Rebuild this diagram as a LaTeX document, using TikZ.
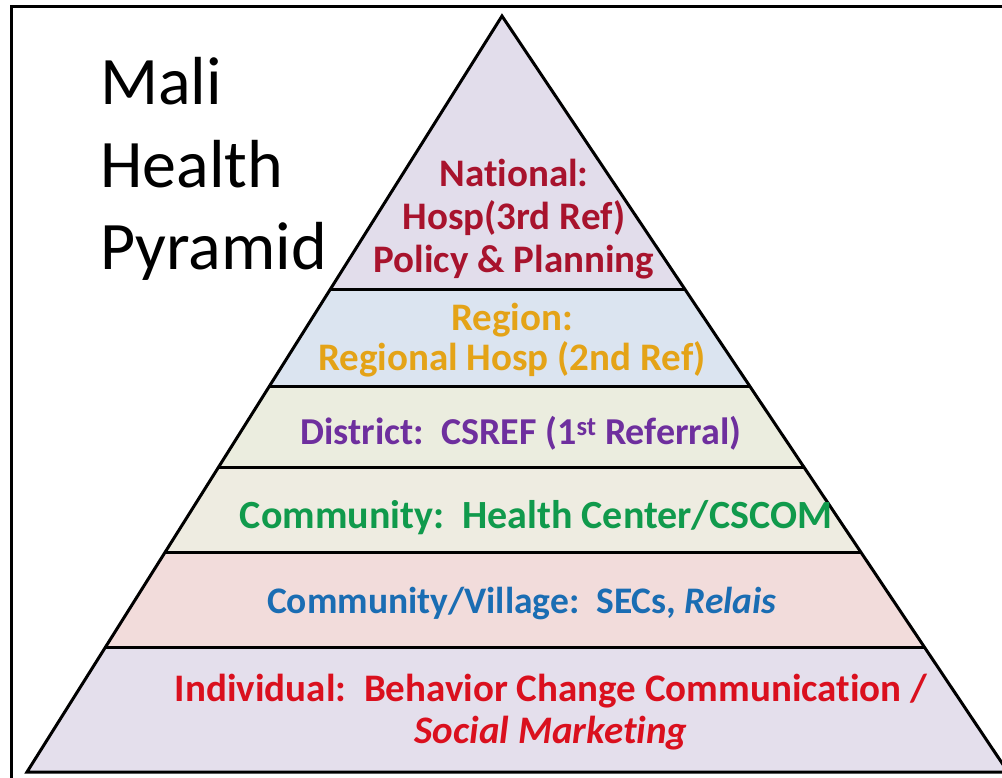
\documentclass[tikz,border=0pt]{standalone}
\usepackage{fontspec}
\setmainfont{Carlito}[Ligatures=CommonOff]
\usetikzlibrary{calc}
\definecolor{natfill}{HTML}{E2DDEB}
\definecolor{regfill}{HTML}{DBE4F0}
\definecolor{disfill}{HTML}{EBEDDF}
\definecolor{comfill}{HTML}{EEECE1}
\definecolor{vilfill}{HTML}{F2DCDB}
\definecolor{indfill}{HTML}{E4DFEC}
\definecolor{natcol}{HTML}{A8132D}
\definecolor{regcol}{HTML}{E4A317}
\definecolor{discol}{HTML}{6E2F9E}
\definecolor{comcol}{HTML}{109A4C}
\definecolor{vilcol}{HTML}{1A6DB3}
\definecolor{indcol}{HTML}{DA101E}
\begin{document}
\begin{tikzpicture}[x=1pt,y=-1pt,
  edge/.style={line width=3pt, line join=miter},
  sep/.style={line width=3pt},
  framebox/.style={line width=3.5pt},
  lbl/.style={font=\bfseries\fontsize{39}{43}\selectfont, align=center, inner sep=0pt},
  ttl/.style={font=\fontsize{68}{80}\selectfont, anchor=base west, inner sep=0pt}]
\useasboundingbox (0,0) rectangle (1002,778);
\fill[white] (0,0) rectangle (1002,778);
\begin{scope}
\clip (0,0) rectangle (1002,778);
\coordinate (A) at (502,16);
\coordinate (BL) at (27,772);
\coordinate (BR) at (1008,772);
\coordinate (L1) at ($(A)!{274/756}!(BL)$);
\coordinate (R1) at ($(A)!{274/756}!(BR)$);
\coordinate (L2) at ($(A)!{371/756}!(BL)$);
\coordinate (R2) at ($(A)!{371/756}!(BR)$);
\coordinate (L3) at ($(A)!{452/756}!(BL)$);
\coordinate (R3) at ($(A)!{452/756}!(BR)$);
\coordinate (L4) at ($(A)!{537/756}!(BL)$);
\coordinate (R4) at ($(A)!{537/756}!(BR)$);
\coordinate (L5) at ($(A)!{632/756}!(BL)$);
\coordinate (R5) at ($(A)!{632/756}!(BR)$);
% bands
\fill[natfill] (A) -- (R1) -- (L1) -- cycle;
\fill[regfill] (L1) -- (R1) -- (R2) -- (L2) -- cycle;
\fill[disfill] (L2) -- (R2) -- (R3) -- (L3) -- cycle;
\fill[comfill] (L3) -- (R3) -- (R4) -- (L4) -- cycle;
\fill[vilfill] (L4) -- (R4) -- (R5) -- (L5) -- cycle;
\fill[indfill] (L5) -- (R5) -- (BR) -- (BL) -- cycle;
% separators
\draw[sep] (L1) -- (R1);
\draw[sep] (L2) -- (R2);
\draw[sep] (L3) -- (R3);
\draw[sep] (L4) -- (R4);
\draw[sep] (L5) -- (R5);
% outline
\draw[edge] (A) -- (BL) -- (BR) -- cycle;
% frame
\draw[framebox] (11.5,6.5) rectangle (1030,795);
\end{scope}
% title
\node[ttl] (t1) at (100,105) {Mali};
\node[ttl] (t2) at (100,188) {Health};
\node[ttl] (t3) at (100,270) {Pyramid};
% labels
\node[lbl, text=natcol] (nat) at (514,219) {National:\\Hosp(3rd Ref)\\Policy \& Planning};
\node[lbl, text=regcol, font=\bfseries\fontsize{39}{40}\selectfont] (reg) at (512,340) {Region:\\Regional Hosp (2nd Ref)};
\node[lbl, text=discol, font=\bfseries\fontsize{38}{43}\selectfont] (dis) at (521,433) {District:\ \ CSREF (1\textsuperscript{st} Referral)};
\node[lbl, text=comcol, font=\bfseries\fontsize{40}{43}\selectfont] (com) at (536,518) {Community:\ \ Health Center/CSCOM};
\node[lbl, text=vilcol, font=\bfseries\fontsize{37.5}{43}\selectfont] (vil) at (522,604) {Community/Village:\ \ SECs, \textit{Relais}};
\node[lbl, text=indcol, font=\bfseries\fontsize{39}{42}\selectfont] (ind) at (551,712) {Individual:\ \ Behavior Change Communication /\\\textit{Social Marketing}};
\end{tikzpicture}
\end{document}
